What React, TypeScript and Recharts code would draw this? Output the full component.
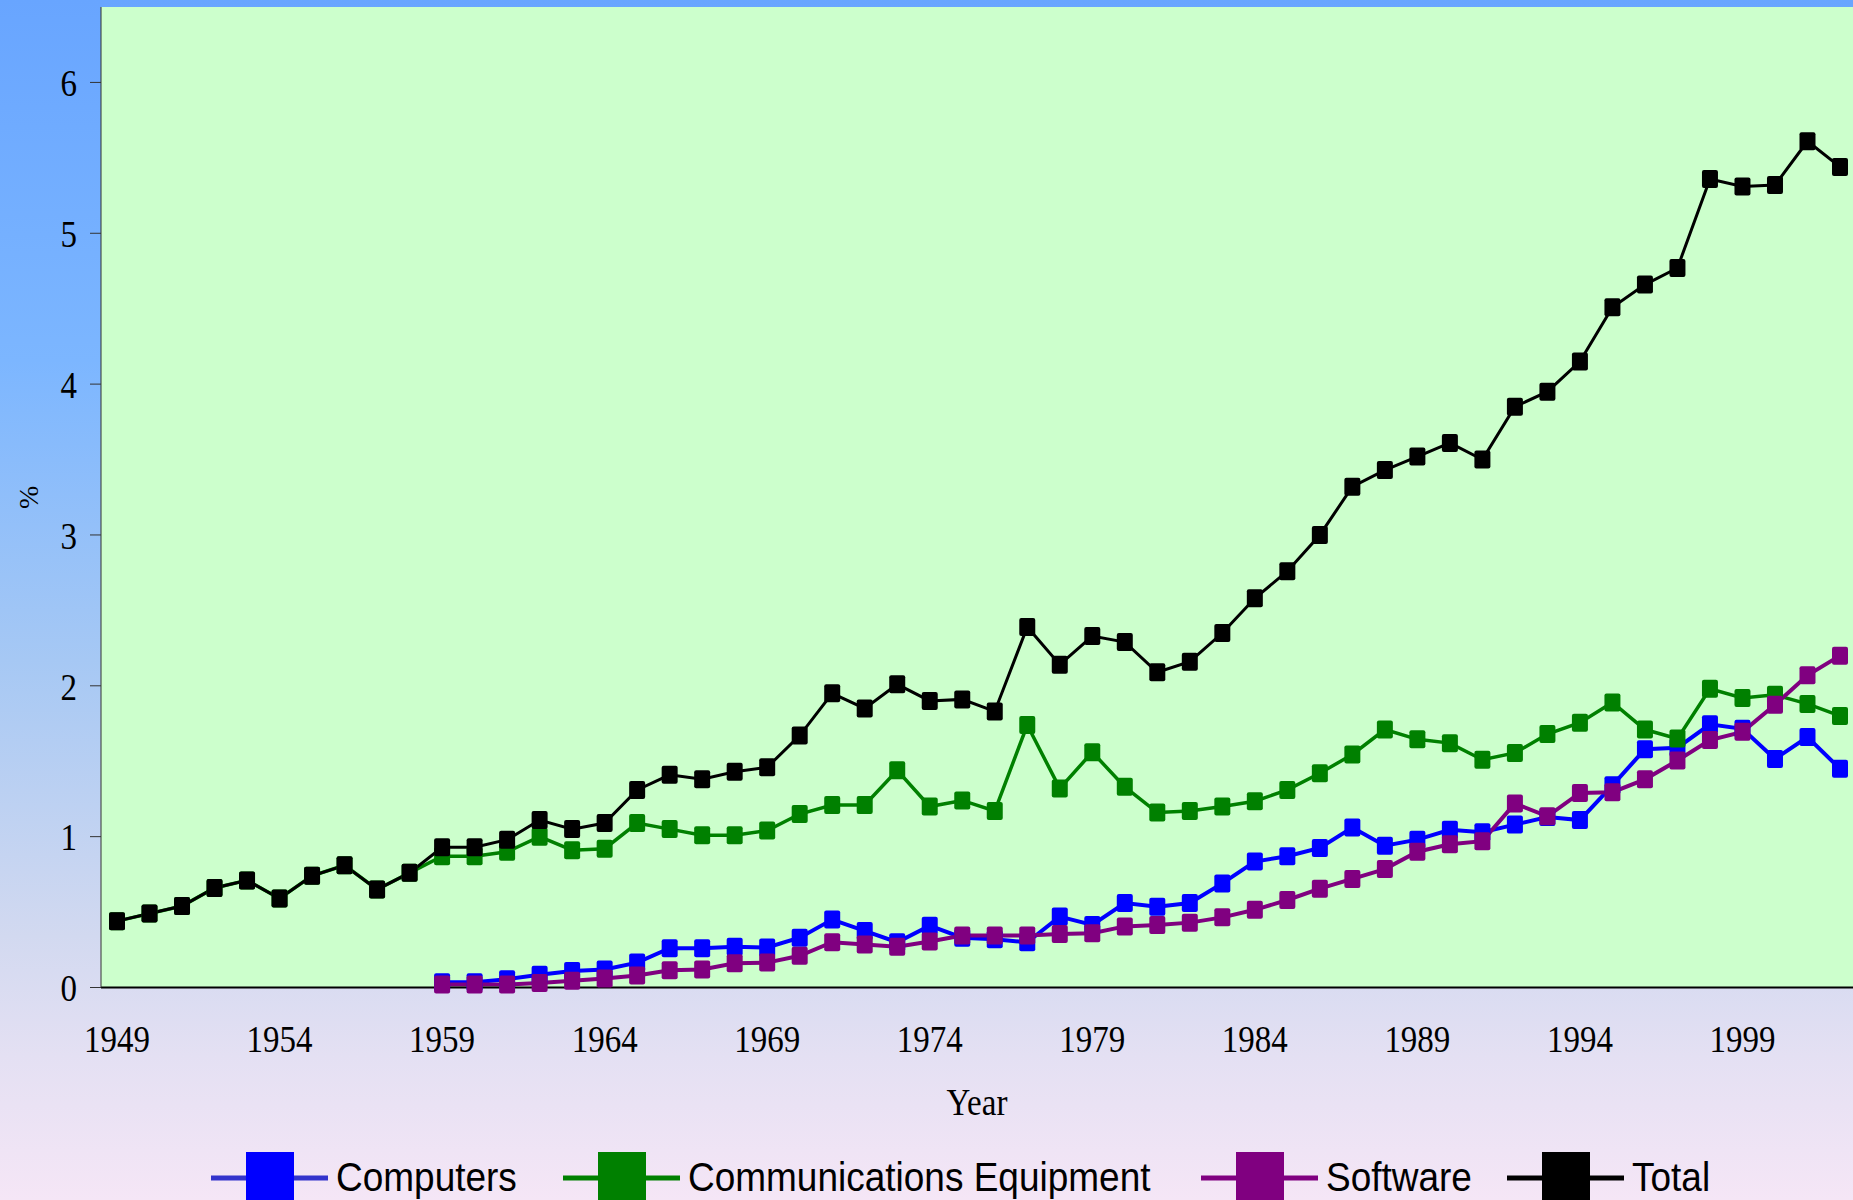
import React from "react";
import {
  LineChart,
  Line,
  XAxis,
  YAxis,
  CartesianGrid,
  Legend,
} from "recharts";

// IT investment share, %
const years = [
  1949, 1950, 1951, 1952, 1953, 1954, 1955, 1956, 1957, 1958,
  1959, 1960, 1961, 1962, 1963, 1964, 1965, 1966, 1967, 1968,
  1969, 1970, 1971, 1972, 1973, 1974, 1975, 1976, 1977, 1978,
  1979, 1980, 1981, 1982, 1983, 1984, 1985, 1986, 1987, 1988,
  1989, 1990, 1991, 1992, 1993, 1994, 1995, 1996, 1997, 1998,
  1999, 2000, 2001, 2002,
];

const computers = [
  null, null, null, null, null, null, null, null, null, null,
  0.035, 0.035, 0.055, 0.085, 0.11, 0.12, 0.165, 0.26, 0.26, 0.27,
  0.265, 0.33, 0.45, 0.375, 0.3, 0.41, 0.33, 0.32, 0.3, 0.47,
  0.415, 0.56, 0.535, 0.56, 0.69, 0.835, 0.87, 0.925, 1.06, 0.94,
  0.98, 1.045, 1.03, 1.08, 1.13, 1.11, 1.34, 1.58, 1.59, 1.745,
  1.715, 1.515, 1.66, 1.45,
];

const communications = [
  0.44, 0.49, 0.54, 0.66, 0.71, 0.59, 0.74, 0.81, 0.65, 0.76,
  0.87, 0.87, 0.9, 1.0, 0.91, 0.92, 1.09, 1.05, 1.01, 1.01,
  1.04, 1.15, 1.21, 1.21, 1.44, 1.2, 1.24, 1.17, 1.74, 1.32,
  1.56, 1.33, 1.16, 1.17, 1.2, 1.235, 1.31, 1.42, 1.545, 1.71,
  1.645, 1.62, 1.51, 1.555, 1.68, 1.755, 1.89, 1.71, 1.65, 1.98,
  1.92, 1.94, 1.88, 1.8,
];

const software = [
  null, null, null, null, null, null, null, null, null, null,
  0.02, 0.02, 0.02, 0.03, 0.045, 0.06, 0.08, 0.115, 0.12, 0.16,
  0.165, 0.21, 0.3, 0.285, 0.27, 0.305, 0.345, 0.345, 0.345, 0.355,
  0.36, 0.405, 0.415, 0.43, 0.465, 0.515, 0.58, 0.655, 0.72, 0.785,
  0.9, 0.95, 0.97, 1.22, 1.135, 1.29, 1.295, 1.38, 1.505, 1.64,
  1.695, 1.875, 2.07, 2.2,
];

const total = [
  0.44, 0.49, 0.54, 0.66, 0.71, 0.59, 0.74, 0.81, 0.65, 0.76,
  0.93, 0.93, 0.98, 1.11, 1.05, 1.09, 1.31, 1.41, 1.38, 1.43,
  1.46, 1.67, 1.95, 1.85, 2.01, 1.9, 1.91, 1.83, 2.39, 2.14,
  2.33, 2.29, 2.09, 2.16, 2.35, 2.58, 2.76, 3.0, 3.32, 3.43,
  3.52, 3.61, 3.5, 3.85, 3.95, 4.15, 4.51, 4.66, 4.77, 5.36,
  5.31, 5.32, 5.61, 5.44,
];

const yTicks = [0, 1, 2, 3, 4, 5, 6];

const data = years.map((year, i) => ({
  year,
  computers: computers[i],
  communications: communications[i],
  software: software[i],
  total: total[i],
}));

const series = [
  { key: "computers", name: "Computers", color: "#0000ff", legendLine: "#3333cc", width: 4, legendX: 211 },
  { key: "communications", name: "Communications Equipment", color: "#008000", legendLine: "#008000", width: 3.5, legendX: 563 },
  { key: "software", name: "Software", color: "#800080", legendLine: "#800080", width: 4, legendX: 1201 },
  { key: "total", name: "Total", color: "#000000", legendLine: "#000000", width: 3, legendX: 1507 },
];

const serif = "'Liberation Serif', 'Times New Roman', serif";
const sans = "'Liberation Sans', Arial, sans-serif";

function squareDot(color: string) {
  return (props: any) => {
    const { cx, cy, index } = props;
    if (cx == null || cy == null || props.value == null) return <g key={`e-${index}`} />;
    return (
      <rect
        key={`d-${index}`}
        x={cx - 8}
        y={cy - 9}
        width={16}
        height={18}
        rx={2}
        fill={color}
      />
    );
  };
}

// the original labels are slightly stretched vertically
function XTick(props: any) {
  const { x, y, payload } = props;
  return (
    <text
      x={x}
      y={y}
      dy="0.71em"
      textAnchor="middle"
      fontFamily={serif}
      fontSize={33}
      fill="#000"
      transform={`translate(0 ${y}) scale(1 1.18) translate(0 ${-y})`}
    >
      {payload.value}
    </text>
  );
}

function YTick(props: any) {
  const { x, y, payload } = props;
  return (
    <text
      x={x}
      y={y}
      dy="0.355em"
      textAnchor="end"
      fontFamily={serif}
      fontSize={33}
      fill="#000"
      transform={`translate(0 ${y}) scale(1 1.18) translate(0 ${-y})`}
    >
      {payload.value}
    </text>
  );
}

function LegendBox() {
  return (
    <svg width={1853} height={60} style={{ display: "block" }}>
      {series.map((s) => (
        <g key={s.key}>
          <line x1={s.legendX} x2={s.legendX + 117} y1={30} y2={30} stroke={s.legendLine} strokeWidth={5} />
          <rect x={s.legendX + 35} y={4} width={48} height={52} fill={s.color} />
          <text
            x={s.legendX + 125}
            y={43}
            fontFamily={sans}
            fontSize={37}
            fill="#000"
            transform="translate(0 43) scale(1 1.1) translate(0 -43)"
          >
            {s.name}
          </text>
        </g>
      ))}
    </svg>
  );
}

export default function App() {
  return (
    <div
      style={{
        position: "absolute",
        left: 0,
        top: 0,
        width: 1853,
        height: 1200,
        overflow: "hidden",
        background:
          "linear-gradient(to bottom, #68a5ff 0%, #7cb6ff 30%, #a6c8f4 55%, #d2d9f0 78%, #e4e0f3 88%, #f5e6f6 100%)",
      }}
    >
      <LineChart
        width={1853}
        height={1200}
        data={data}
        margin={{ top: 7, right: 0, bottom: 72.5, left: 0 }}
      >
        <CartesianGrid fill="#ccffcc" horizontal={false} vertical={false} />
        <XAxis
          dataKey="year"
          interval={4}
          height={140}
          padding={{ left: 16, right: 13 }}
          tickLine={false}
          tickSize={0}
          tickMargin={37}
          axisLine={{ stroke: "#000", strokeWidth: 2 }}
          tick={<XTick />}
          label={{
            value: "Year",
            content: (p: any) => {
              const { x, y, width } = p.viewBox;
              const bx = x + width / 2;
              const by = y + 128;
              return (
                <text
                  x={bx}
                  y={by}
                  textAnchor="middle"
                  fontFamily={serif}
                  fontSize={33}
                  fill="#000"
                  transform={`translate(0 ${by}) scale(1 1.18) translate(0 ${-by})`}
                >
                  Year
                </text>
              );
            },
          }}
        />
        <YAxis
          width={101}
          domain={[0, 6.5]}
          ticks={yTicks}
          tickSize={11}
          tickMargin={13}
          axisLine={{ stroke: "#333", strokeWidth: 1 }}
          tickLine={{ stroke: "#333", strokeWidth: 1 }}
          tick={<YTick />}
          label={{
            value: "%",
            content: (p: any) => {
              const { x, y, height } = p.viewBox;
              const cx = x + 28;
              const cy = y + height / 2;
              return (
                <text
                  x={cx}
                  y={cy}
                  transform={`rotate(-90 ${cx} ${cy})`}
                  textAnchor="middle"
                  dominantBaseline="central"
                  fontFamily={serif}
                  fontSize={28}
                  fill="#000"
                >
                  %
                </text>
              );
            },
          }}
        />
        <Legend
          layout="horizontal"
          verticalAlign="middle"
          align="center"
          wrapperStyle={{ left: 0, top: 1148, width: 1853, height: 60 }}
          content={() => <LegendBox />}
        />
        {series.map((s) => (
          <Line
            key={s.key}
            type="linear"
            dataKey={s.key}
            name={s.name}
            stroke={s.color}
            strokeWidth={s.width}
            dot={squareDot(s.color)}
            activeDot={false}
            isAnimationActive={false}
          />
        ))}
      </LineChart>
    </div>
  );
}
